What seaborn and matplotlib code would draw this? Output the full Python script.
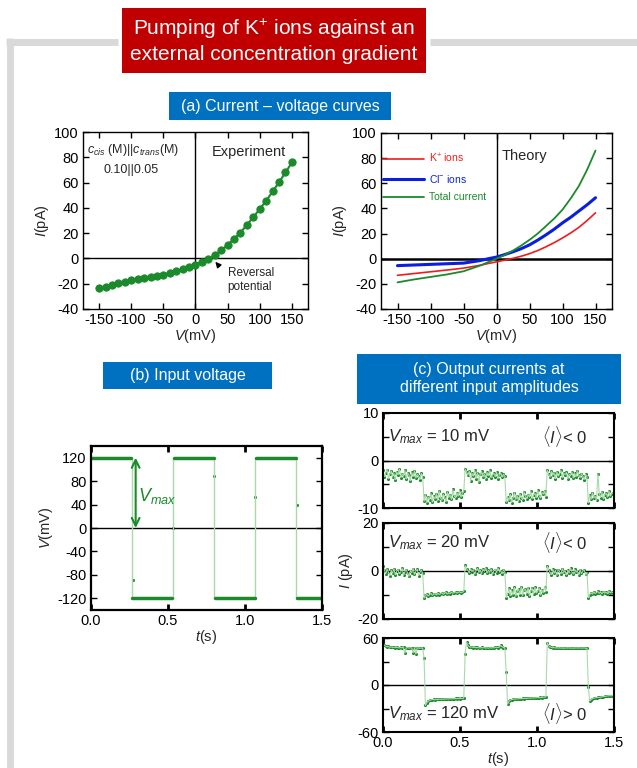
import numpy as np
import seaborn as sns
import matplotlib.pyplot as plt
from matplotlib.patches import Rectangle
from matplotlib.lines import Line2D

sns.set_style('ticks')
plt.rcParams['font.family'] = ['Liberation Sans', 'DejaVu Sans']
plt.rcParams['mathtext.fontset'] = 'custom'
plt.rcParams['mathtext.rm'] = 'Liberation Sans'
plt.rcParams['mathtext.it'] = 'Liberation Sans:italic'
plt.rcParams['mathtext.bf'] = 'Liberation Sans:bold'
plt.rcParams['axes.unicode_minus'] = False

# ---------------- data ----------------
# (a) experiment I-V curve
v_exp = [-150, -140, -130, -120, -110, -100, -90, -80, -70, -60, -50, -40, -30, -20, -10, 0,
         10, 20, 30, 40, 50, 60, 70, 80, 90, 100, 110, 120, 130, 140, 150]
i_exp = [-23.7, -22.6, -21.0, -19.4, -18.4, -17.3, -16.5, -15.7, -14.9, -13.6, -12.8, -11.5,
         -9.9, -8.3, -6.5, -4.9, -2.5, -0.4, 2.8, 6.3, 10.8, 15.5, 20.5, 26.6, 32.6, 39.2,
         45.6, 53.0, 60.3, 68.0, 75.9]

# (a) theory curves
v_th = [-150, -125, -100, -75, -50, -25, -12.5, 0, 12.5, 25, 37.5, 50, 62.5, 75, 87.5,
        100, 112.5, 125, 137.5, 150]
i_k = [-13.2, -11.8, -10.4, -9.0, -7.5, -5.2, -3.8, -2.5, -1.1, 0.3, 2.0, 4.0, 6.5, 9.5,
       12.8, 16.5, 20.5, 25.0, 30.5, 36.5]
i_cl = [-5.5, -5.0, -4.5, -4.0, -3.5, -1.5, 0.0, 1.3, 3.3, 5.5, 8.0, 11.0, 14.8, 19.0,
        23.5, 28.5, 33.0, 38.0, 43.0, 48.5]
i_tot = [-18.8, -16.5, -14.5, -12.5, -10.0, -5.5, -2.7, 0.0, 3.0, 6.5, 10.5, 15.0, 20.0,
         26.0, 32.0, 39.0, 48.0, 58.0, 71.0, 86.0]

# (b) input voltage: switching times, plateau levels, single points caught mid-switch
t_edges = [0.0, 0.265, 0.532, 0.800, 1.067, 1.333, 1.5]
v_levels = [120, -120, 120, -120, 120, -120]
t_mid = [0.270, 0.532, 0.800, 1.068, 1.336]
v_mid = [-88, 0, 88, 53, 40]

# (c) output currents, sampled every 2/225 s
dt = 2 / 225
i_10 = [-2.1, -3.4, -2.6, -1.9, -3.8, -2.9, -2.2, -3.5, -2.7, -4.1, -2.4, -3.0, -1.8, -3.6, -2.8,
        -3.3, -2.0, -3.9, -2.6, -3.1, -4.3, -2.5, -3.4, -2.2, -3.7, -2.9, -3.2, -4.0, -2.7, -3.5,
        -8.6, -7.2, -8.9, -7.7, -8.3, -6.9, -8.8, -7.5, -8.1, -7.0, -8.5, -6.4, -7.9, -8.4, -7.1,
        -7.6, -8.7, -6.6, -7.8, -7.2, -8.2, -6.1, -7.4, -7.9, -6.8, -7.5, -6.3, -7.7, -6.9, -6.5,
        -1.8, -2.4, -3.1, -2.2, -4.4, -2.7, -3.3, -2.0, -3.8, -2.6, -4.6, -2.9, -2.3, -3.5, -2.8,
        -3.9, -2.5, -3.2, -2.1, -3.6, -3.0, -2.7, -3.4, -2.4, -3.8, -3.1, -2.6, -3.5, -2.9, -3.3,
        -8.8, -7.6, -8.4, -7.1, -8.9, -7.9, -6.8, -8.2, -7.4, -8.6, -7.0, -7.8, -8.3, -6.6, -7.5,
        -8.1, -7.2, -7.7, -6.4, -8.0, -7.3, -6.9, -7.8, -6.2, -7.4, -7.9, -6.7, -7.1, -6.5, -7.6,
        -2.0, -2.9, -3.5, -2.3, -3.1, -2.6, -3.8, -2.4, -3.3, -2.8, -2.1, -3.6, -2.7, -3.0, -2.5,
        -3.9, -2.9, -3.2, -2.4, -3.7, -2.7, -3.4, -2.2, -3.0, -3.6, -2.8, -3.3, -4.0, -2.9, -3.5,
        -8.9, -7.3, -8.2, -6.8, -7.9, -7.5, -8.4, -2.8, -7.0, -7.8, -6.6, -8.1, -7.2, -6.9, -7.7,
        -6.4, -7.5, -7.0, -6.8]
i_20 = [2.1, 0.4, -1.2, 0.8, -0.6, -2.0, 0.3, -0.9, 0.9, -1.6, -0.2, 0.6, -1.1, -0.4, 1.2,
        -1.8, -0.3, 0.5, -0.8, -2.2, 0.2, -0.7, 1.0, -1.4, -0.1, 0.7, -1.9, -0.5, 0.4, -1.0,
        -11.3, -10.2, -9.6, -10.4, -9.9, -9.3, -10.1, -9.7, -9.4, -10.0, -9.2, -9.8, -9.5, -9.0, -9.7,
        -9.3, -8.9, -9.6, -9.1, -9.4, -8.8, -9.3, -9.0, -8.7, -9.2, -8.9, -8.6, -9.1, -8.8, -8.5,
        2.3, 1.0, 0.2, -0.8, 0.9, -0.3, 0.5, -1.3, 0.1, 1.1, -0.6, 0.4, -1.0, 0.7, -0.2,
        1.3, -0.9, 0.3, -0.5, 0.8, -1.4, 0.0, 0.6, -0.7, 1.2, -0.4, 0.2, -1.1, 0.5, -0.3,
        -11.1, -9.6, -7.2, -10.3, -8.1, -9.9, -6.8, -10.6, -8.5, -7.4, -9.8, -6.6, -10.2, -8.0, -7.6,
        -9.5, -6.9, -10.4, -8.3, -7.1, -9.7, -6.7, -9.2, -8.4, -7.0, -10.0, -7.8, -9.1, -6.5, -8.6,
        2.0, 0.6, -0.4, -1.5, 0.8, -0.9, 0.3, -1.8, 0.5, -0.2, -1.2, 0.9, -0.6, 0.1, -1.6,
        0.4, -0.8, 1.1, -0.3, -1.3, 0.7, -0.5, 0.2, -1.7, 0.6, -1.0, -0.1, 0.4, -1.4, -0.6,
        -11.2, -9.8, -9.1, -9.6, -8.7, -9.4, -9.0, -8.5, -9.3, -8.8, -9.5, -8.6, -9.2, -8.9, -9.4,
        -8.4, -9.1, -8.7, -9.0]
i_120 = [52.0, 50.5, 49.6, 48.8, 49.2, 48.1, 48.6, 47.9, 48.4, 47.6, 48.2, 47.8, 47.3, 48.0, 47.5,
         47.9, 40.5, 47.4, 47.8, 47.1, 47.6, 47.2, 41.0, 47.5, 39.5, 47.0, 47.4, 46.8, 47.3, 47.1,
         34.0, -26.0, -22.5, -20.8, -19.6, -19.0, -18.7, -18.4, -18.9, -18.2, -18.5, -18.0, -18.3, -17.9, -18.2,
         -17.7, -18.1, -17.6, -17.9, -17.4, -17.8, -17.3, -17.6, -17.2, -17.5, -17.0, -17.4, -16.9, -17.2, -16.8,
         40.0, 55.0, 50.5, 49.0, 48.2, 48.7, 47.8, 48.3, 47.5, 48.0, 47.6, 47.2, 47.9, 47.4, 47.8,
         47.1, 47.5, 47.0, 47.6, 47.2, 47.7, 47.3, 47.9, 48.2, 47.6, 48.5, 50.5, 49.0, 47.8, 47.5,
         16.5, -24.5, -21.0, -19.3, -18.6, -18.2, -17.8, -18.0, -17.5, -17.7, -17.3, -17.5, -17.1, -17.3, -16.9,
         -17.1, -16.7, -16.9, -16.5, -16.7, -16.3, -16.5, -16.2, -16.0, -16.3, -15.8, -16.0, -15.6, -15.4, -15.2,
         54.0, 50.0, 48.6, 48.0, 47.5, 47.9, 47.2, 47.6, 47.1, 47.5, 47.0, 47.4, 46.9, 47.3, 47.0,
         47.5, 47.1, 47.4, 46.9, 47.3, 47.0, 47.4, 47.1, 47.5, 47.0, 47.3, 47.1, 47.4, 46.8, 47.2,
         -2.5, -20.5, -18.6, -17.5, -16.8, -16.4, -16.0, -15.7, -15.9, -15.4, -15.1, -14.8, -14.5, -14.2, -13.9,
         -13.8, -13.6, -13.8, -13.5]

GREEN = '#1a8a2a'
LIGHT = '#a9d9a9'
RED = '#ee1c1c'
BLUE = '#0a1ee0'
BOXBLUE = '#0070c0'
BOXRED = '#c00000'
W, H = 637, 768


def rect(x0, y0, x1, y1):
    return [x0 / W, 1 - y1 / H, (x1 - x0) / W, (y1 - y0) / H]


def style(ax, lw=1.0, xw=1.0):
    for s in ax.spines.values():
        s.set_linewidth(lw)
        s.set_color('black')
    ax.tick_params(direction='in', top=True, right=True, length=4, width=1,
                   labelsize=10.5, pad=3, colors='black')
    ax.tick_params(axis='x', width=xw)


def box(x0, y0, x1, y1, color, text, size):
    fig.add_artist(Rectangle((x0 / W, 1 - y1 / H), (x1 - x0) / W, (y1 - y0) / H,
                             transform=fig.transFigure, color=color, lw=0))
    fig.text((x0 + x1) / 2 / W, 1 - (y0 + y1) / 2 / H, text, color='white',
             fontsize=size, ha='center', va='center', linespacing=1.25)


fig = plt.figure(figsize=(6.37, 7.68), dpi=100)

# grey frame
frame = dict(color='#d9d9d9', lw=5, solid_capstyle='butt')
fig.add_artist(Line2D([6 / W, 118 / W], [1 - 41.5 / H] * 2, **frame))
fig.add_artist(Line2D([430 / W, 1], [1 - 41.5 / H] * 2, **frame))
fig.add_artist(Line2D([9.5 / W] * 2, [1 - 38 / H, 0], **frame))

box(122, 8, 426, 73, BOXRED, 'Pumping of K$^{+}$ ions against an\nexternal concentration gradient', 15)
box(169, 92, 391, 120, BOXBLUE, '(a) Current \u2013 voltage curves', 11.5)
box(103, 362, 272, 389, BOXBLUE, '(b) Input voltage', 11.5)
box(357, 354, 621, 404, BOXBLUE, '(c) Output currents at\ndifferent input amplitudes', 11.5)

# ---------- (a) experiment ----------
axL = fig.add_axes(rect(83, 132, 308, 309))
axL.axhline(0, color='black', lw=1)
axL.axvline(0, color='black', lw=1)
sns.lineplot(x=v_exp, y=i_exp, ax=axL, color=GREEN, lw=1.5, marker='o', markersize=5.2,
             markeredgecolor=GREEN)
axL.set_xlim(-175, 175)
axL.set_ylim(-40, 100)
axL.set_xticks([-150, -100, -50, 0, 50, 100, 150])
axL.set_yticks([-40, -20, 0, 20, 40, 60, 80, 100])
axL.set_xlabel('$V$(mV)', fontsize=10.5, labelpad=0)
axL.set_ylabel('$I$(pA)', fontsize=10.5, labelpad=2)
style(axL)
axL.text(0.018, 0.898, '$c_{cis}$ (M)||$c_{trans}$(M)', transform=axL.transAxes,
         fontsize=9, va='center')
axL.text(0.213, 0.785, '0.10||0.05', transform=axL.transAxes, fontsize=9,
         ha='center', va='center')
axL.text(0.573, 0.887, 'Experiment', transform=axL.transAxes, fontsize=10.5, va='center')
axL.annotate('', xy=(28, -1), xytext=(40, -8),
             arrowprops=dict(arrowstyle='-|>', color='black', lw=1, mutation_scale=8))
axL.text(50, -7, 'Reversal\npotential', fontsize=8.5, va='top', ha='left', linespacing=1.2)

# ---------- (a) theory ----------
axR = fig.add_axes(rect(381, 133, 612, 309))
axR.axhline(0, color='black', lw=1.8)
axR.axvline(0, color='black', lw=1)
sns.lineplot(x=v_th, y=i_k, ax=axR, color=RED, lw=1.2, label='K$^{+}$ ions')
sns.lineplot(x=v_th, y=i_cl, ax=axR, color=BLUE, lw=2.2, label='Cl$^{-}$ ions')
sns.lineplot(x=v_th, y=i_tot, ax=axR, color=GREEN, lw=1.3, label='Total current')
axR.legend(loc='upper left', bbox_to_anchor=(0.009, 0.895), frameon=False, fontsize=7.5,
           handlelength=3.9, handletextpad=0.5, labelspacing=0.75, borderpad=0,
           borderaxespad=0, labelcolor='linecolor')
axR.set_xlim(-175, 175)
axR.set_ylim(-40, 100)
axR.set_xticks([-150, -100, -50, 0, 50, 100, 150])
axR.set_yticks([-40, -20, 0, 20, 40, 60, 80, 100])
axR.set_xlabel('$V$(mV)', fontsize=10.5, labelpad=0)
axR.set_ylabel('$I$(pA)', fontsize=10.5, labelpad=2)
style(axR)
axR.text(0.524, 0.87, 'Theory', transform=axR.transAxes, fontsize=10.5, va='center')

# ---------- (b) input voltage ----------
axB = fig.add_axes(rect(91, 446, 322, 610))
axB.axhline(0, color='black', lw=1)
step_t = [t for i in range(len(v_levels)) for t in (t_edges[i], t_edges[i + 1])]
step_v = [v for v in v_levels for _ in (0, 1)]
sns.lineplot(x=step_t, y=step_v, ax=axB, color=LIGHT, lw=1, sort=False,
             estimator=None, errorbar=None)
for i, lvl in enumerate(v_levels):
    a = t_edges[i] + (0.004 if i else 0)
    b = t_edges[i + 1] - (0.004 if i < len(v_levels) - 1 else 0)
    sns.lineplot(x=[a, b], y=[lvl, lvl], ax=axB, color=GREEN, lw=2.5)
sns.scatterplot(x=t_mid, y=v_mid, ax=axB, color=GREEN, s=5, linewidth=0)
axB.annotate('', xy=(0.29, 0), xytext=(0.29, 120),
             arrowprops=dict(arrowstyle='<->', color=GREEN, lw=1.5, mutation_scale=14,
                             shrinkA=0, shrinkB=0))
axB.text(0.305, 55, '$V_{max}$', color=GREEN, fontsize=13, va='center')
axB.set_xlim(0, 1.5)
axB.set_ylim(-140, 140)
axB.set_xticks([0, 0.5, 1.0, 1.5], ['0.0', '0.5', '1.0', '1.5'])
axB.set_yticks([-120, -80, -40, 0, 40, 80, 120])
axB.set_xlabel('$t$(s)', fontsize=10.5, labelpad=0)
axB.set_ylabel('$V$(mV)', fontsize=10.5, labelpad=2)
style(axB, lw=1.6, xw=2)

# ---------- (c) output currents ----------
t_c = np.arange(len(i_10)) * dt
panels = [
    (rect(383, 413, 614, 508), i_10, 10, '10', '$\\langle I\\rangle$< 0', 5),
    (rect(383, 523, 614, 619), i_20, 20, '20', '$\\langle I\\rangle$< 0', 11.7),
    (rect(383, 638, 614, 732), i_120, 60, '120', '$\\langle I\\rangle$> 0', -36),
]
axes_c = []
for pos, vals, lim, vmax, sign, ytxt in panels:
    ax = fig.add_axes(pos)
    ax.axhline(0, color='black', lw=1)
    sns.lineplot(x=t_c, y=vals, ax=ax, color=LIGHT, lw=0.8)
    sns.scatterplot(x=t_c, y=vals, ax=ax, color=GREEN, s=5, linewidth=0)
    ax.set_xlim(0, 1.5)
    ax.set_ylim(-lim, lim)
    ax.set_yticks([-lim, -lim / 2, 0, lim / 2, lim], [str(-lim), '', '0', '', str(lim)])
    ax.set_xticks([0, 0.5, 1.0, 1.5], ['0.0', '0.5', '1.0', '1.5'])
    style(ax, lw=1.5, xw=2)
    ax.text(0.02, ytxt, '$V_{max}$ = ' + vmax + ' mV', fontsize=12, va='center',
            transform=ax.get_yaxis_transform())
    ax.text(0.69, ytxt, sign, fontsize=12, va='center', transform=ax.get_yaxis_transform())
    axes_c.append(ax)
for ax in axes_c[:2]:
    ax.tick_params(axis='x', labelbottom=False)
axes_c[1].set_ylabel('$I$ (pA)', fontsize=10.5, labelpad=2)
axes_c[2].set_xlabel('$t$(s)', fontsize=10.5, labelpad=0)

fig.savefig('out.png', dpi=100)
